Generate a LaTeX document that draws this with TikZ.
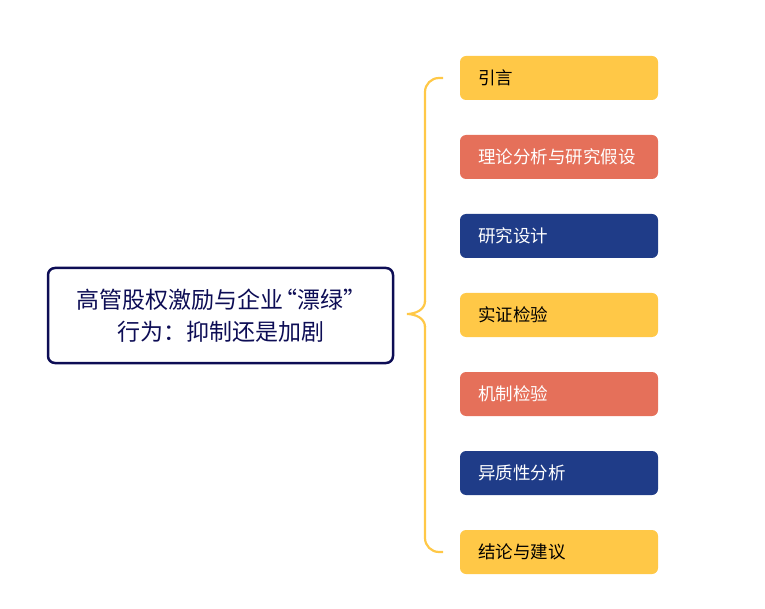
\documentclass[tikz,border=0pt]{standalone}
\usepackage{fontspec}
\setmainfont{Noto Sans CJK SC}
\definecolor{cyel}{HTML}{FFC847}
\definecolor{ccor}{HTML}{E5705A}
\definecolor{cnav}{HTML}{1F3C88}
\definecolor{cdark}{HTML}{0D0D55}
\begin{document}
\begin{tikzpicture}[x=1pt,y=-1pt,
  item/.style={rounded corners=6pt,minimum width=198pt,minimum height=44pt,inner sep=0pt,
    font=\fontsize{17.5}{20}\selectfont,text width=162pt,align=left},
  yel/.style={item,fill=cyel,text=black},
  cor/.style={item,fill=ccor,text=white},
  nav/.style={item,fill=cnav,text=white},
  brace/.style={draw=cyel,line width=2.2pt},
  mainbox/.style={draw=cdark,line width=2.5pt,rounded corners=7pt,minimum width=345pt,minimum height=95pt,
    inner sep=0pt,align=center,text=cdark,font=\fontsize{23}{32}\selectfont}]
\useasboundingbox (0,0) rectangle (765,609);
\node[mainbox] (main) at (220.5,315.5) {\hspace*{2pt}高管股权激励与企业\hspace{-9pt}“漂绿”\\行为：抑制还是加剧};
\node[yel] (n1) at (559,78) {引言};
\node[cor] (n2) at (559,157) {理论分析与研究假设};
\node[nav] (n3) at (559,236) {研究设计};
\node[yel] (n4) at (559,315) {实证检验};
\node[cor] (n5) at (559,394) {机制检验};
\node[nav] (n6) at (559,473) {异质性分析};
\node[yel] (n7) at (559,552) {结论与建议};
\coordinate (cusp) at (407,314);
\coordinate (t) at (443,78);
\coordinate (b) at (443,552);
\draw[brace,rounded corners=14pt] (t) -- (425,78) -- (425,302);
\draw[brace] (425,301) .. controls (425,310) and (415,314) .. (cusp)
  .. controls (415,314) and (425,318) .. (425,327);
\draw[brace,rounded corners=14pt] (425,326) -- (425,552) -- (b);
\end{tikzpicture}
\end{document}
